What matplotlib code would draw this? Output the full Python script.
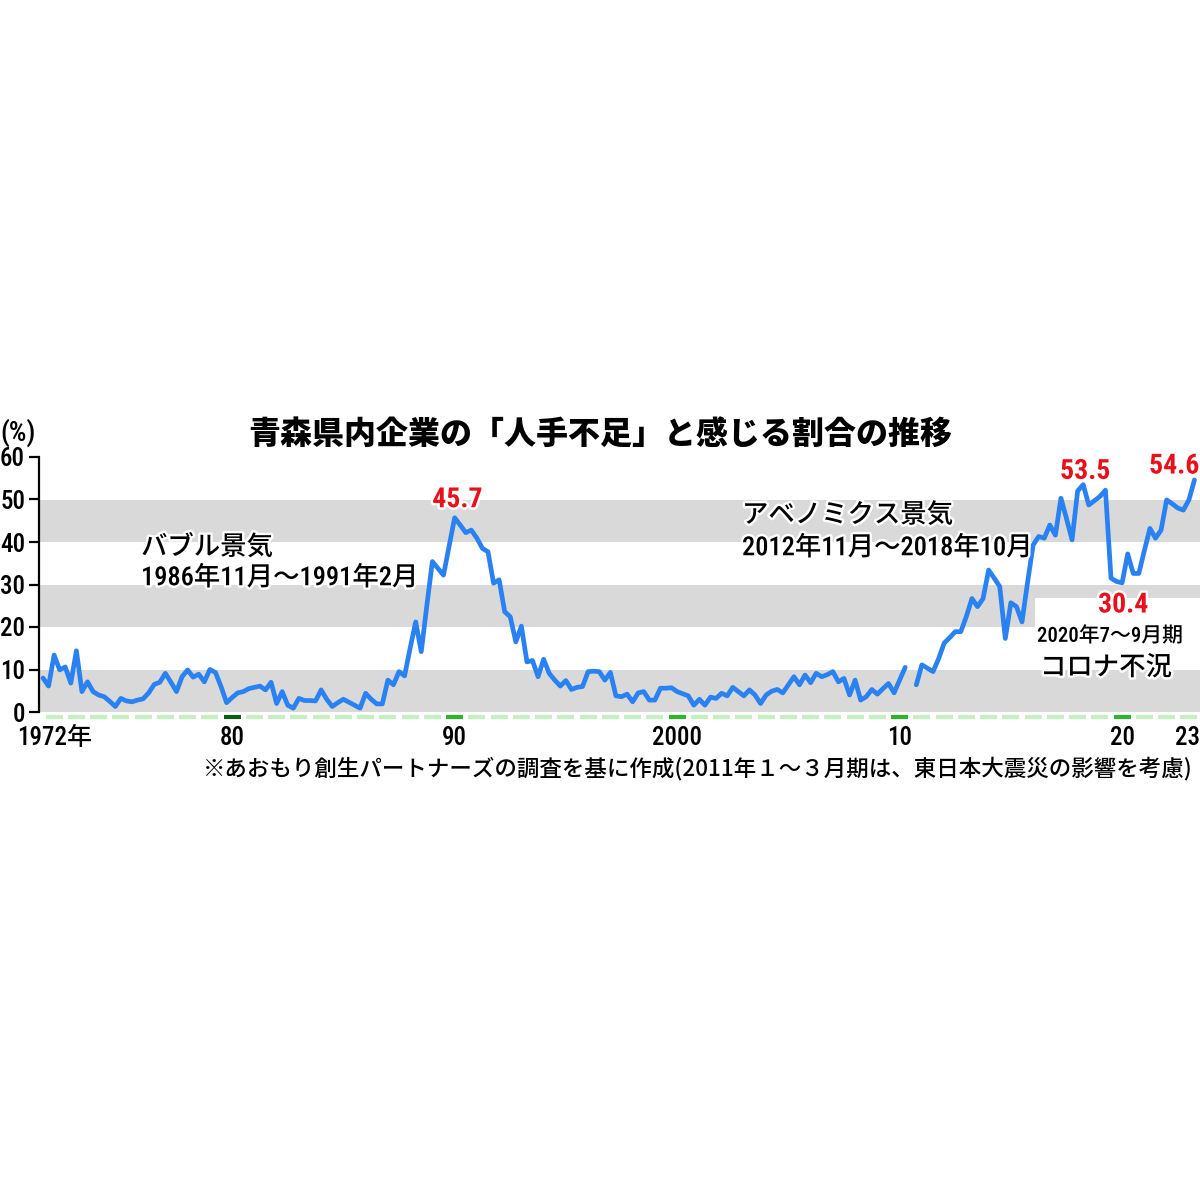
import numpy as np
import matplotlib
matplotlib.use('Agg')
import matplotlib.pyplot as plt
import matplotlib.patheffects as pe
from matplotlib.patches import Rectangle

# quarterly share of firms reporting labour shortage (%), 1972 Q1 .. 2023 Q4
share = [
    8.0, 6.1, 13.4, 9.9,     # 1972
    10.6, 6.8, 14.4, 4.8,    # 1973
    7.1, 4.8, 4.0, 3.6,      # 1974
    2.5, 1.3, 3.2, 2.6,      # 1975
    2.4, 2.8, 3.1, 4.5,      # 1976
    6.5, 7.0, 9.1, 7.0,      # 1977
    4.8, 8.3, 9.9, 8.2,      # 1978
    8.9, 7.1, 10.0, 9.3,     # 1979
    6.0, 2.2, 3.4, 4.5,      # 1980
    4.8, 5.5, 5.8, 6.1,      # 1981
    5.2, 7.0, 2.0, 4.8,      # 1982
    1.6, 0.9, 3.2, 2.7,      # 1983
    2.7, 2.6, 5.2, 3.0,      # 1984
    1.3, 2.2, 3.0, 2.3,      # 1985
    1.6, 0.9, 4.4, 3.0,      # 1986
    1.9, 1.9, 7.5, 6.4,      # 1987
    9.5, 8.5, 15.0, 21.2,    # 1988
    14.2, 25.0, 35.4, 33.8,  # 1989
    32.2, 39.0, 45.7, 44.0,  # 1990
    42.2, 42.8, 40.9, 38.5,  # 1991
    37.7, 30.3, 31.1, 23.6,  # 1992
    22.4, 16.5, 20.2, 11.8,  # 1993
    12.1, 8.3, 12.4, 9.1,    # 1994
    7.5, 6.1, 7.4, 5.3,      # 1995
    5.8, 6.0, 9.5, 9.6,      # 1996
    9.5, 7.5, 9.3, 3.8,      # 1997
    3.6, 4.2, 2.4, 4.5,      # 1998
    4.8, 2.8, 2.8, 5.6,      # 1999
    5.6, 5.7, 4.8, 4.3,      # 2000
    3.8, 1.6, 3.0, 1.6,      # 2001
    3.5, 3.2, 4.4, 3.8,      # 2002
    5.8, 4.8, 3.8, 5.2,      # 2003
    4.0, 2.0, 4.0, 4.9,      # 2004
    5.3, 4.5, 6.4, 8.3,      # 2005
    6.4, 8.7, 6.9, 9.1,      # 2006
    8.3, 8.8, 9.5, 7.1,      # 2007
    7.9, 4.0, 7.5, 2.8,      # 2008
    3.6, 5.3, 4.2, 5.5,      # 2009
    6.7, 4.5, 7.5, 10.5,     # 2010
    np.nan, 6.4, 11.1, 10.3, # 2011 (Q1 left out: earthquake)
    9.5, 12.5, 16.2, 17.5,   # 2012
    18.9, 18.9, 22.5, 26.7,  # 2013
    24.8, 26.7, 33.4, 31.5,  # 2014
    29.5, 17.3, 25.7, 24.8,  # 2015
    21.2, 30.5, 39.3, 41.3,  # 2016
    40.9, 44.0, 41.6, 50.3,  # 2017
    45.5, 40.5, 52.0, 53.5,  # 2018
    48.7, 49.7, 50.7, 52.2,  # 2019
    31.5, 30.7, 30.4, 37.2,  # 2020
    32.6, 32.6, 38.0, 43.2,  # 2021
    40.9, 42.8, 49.9, 49.0,  # 2022
    48.0, 47.5, 49.9, 54.6,  # 2023
]
first_year = 1972
last_year = 2023

tick_years = [1972, 1980, 1990, 2000, 2010, 2020, 2023]
tick_labels = ['1972年', '80', '90', '2000', '10', '20', '23']
decade_years = [1990, 2000, 2010, 2020]

# (year, quarter) of the labelled values and label offsets (points)
marked = [(1990, 3), (2018, 4), (2020, 3), (2023, 4)]
marked_offsets = [(2, 13), (1.5, 9.5), (0.7, -16), (-14.5, 10)]

title = '青森県内企業の「人手不足」と感じる割合の推移'
note = '※あおもり創生パートナーズの調査を基に作成(2011年１～３月期は、東日本大震災の影響を考慮)'

NUM = 'Roboto Condensed'
JP = 'Noto Sans CJK JP'
plt.rcParams['font.family'] = [NUM, JP, 'DejaVu Sans']
plt.rcParams['font.weight'] = 500

BLUE = '#2a82f2'
RED = '#e8101a'
halo = [pe.withStroke(linewidth=3.5, foreground='white')]


def px(x, y):
    return x / 1200, 1 - y / 1200


fig = plt.figure(figsize=(12, 12), dpi=100)
ax = fig.add_axes([39 / 1200, 1 - 712 / 1200, (1200 - 39) / 1200, 255 / 1200])

x = first_year + np.arange(len(share)) / 4
y = np.array(share)

ax.set_xlim(first_year + (39 - 43) / 22.25, last_year + 1)
ax.set_ylim(0, 60)

for lo in (0, 20, 40):
    ax.axhspan(lo, lo + 10, color='#d9d9d9', lw=0, zorder=0)

# white box behind the corona note
ax.add_patch(Rectangle((2016.6, 20), last_year + 1 - 2016.6, 6.8, facecolor='white',
                       edgecolor='none', zorder=1))

ax.plot(x, y, color=BLUE, lw=3.4, solid_joinstyle='round', solid_capstyle='round', zorder=3)

for s in ('top', 'right', 'bottom'):
    ax.spines[s].set_visible(False)
ax.spines['left'].set_linewidth(1.6)
ax.set_yticks(range(0, 61, 10))
ax.tick_params(axis='y', length=7, width=1.6, pad=3, labelsize=18)
ax.set_xticks([])

# one dash per year along the bottom
for yr in range(first_year, last_year + 1):
    if yr == 1980:
        c = '#0d5c14'
    elif yr in decade_years:
        c = '#2db52d'
    else:
        c = '#c5f0c0'
    ax.plot([yr + 0.12, yr + 0.88], [-1.25, -1.25], color=c, lw=3,
            solid_capstyle='butt', clip_on=False)

for yr, lab in zip(tick_years, tick_labels):
    if yr == last_year:
        ax.text(last_year + 1, -6.1, lab, ha='right', va='center', fontsize=18, clip_on=False)
    else:
        ax.text(yr + 0.5, -6.1, lab, ha='center', va='center', fontsize=18, clip_on=False)

for (yr, q), (dx, dy) in zip(marked, marked_offsets):
    i = (yr - first_year) * 4 + q - 1
    ax.annotate(f'{y[i]:.1f}', xy=(x[i], y[i]), xytext=(dx, dy), textcoords='offset points',
                ha='center', va='center', color=RED, fontsize=20, fontweight='bold',
                path_effects=halo, annotation_clip=False, zorder=5)

fig.text(*px(600, 434), title, ha='center', va='center', fontsize=23,
         fontweight=900, family=[JP])
fig.text(*px(0, 433), '(%)', ha='left', va='center', fontsize=20)

fig.text(*px(141, 547), 'バブル景気', ha='left', va='center', fontsize=19, path_effects=halo)
fig.text(*px(141, 578), '1986年11月～1991年2月', ha='left', va='center', fontsize=19, path_effects=halo)
fig.text(*px(742, 515), 'アベノミクス景気', ha='left', va='center', fontsize=19, path_effects=halo)
fig.text(*px(742, 548), '2012年11月～2018年10月', ha='left', va='center', fontsize=19, path_effects=halo)
fig.text(*px(1037, 636), '2020年7～9月期', ha='left', va='center', fontsize=15, path_effects=halo)
fig.text(*px(1040, 668), 'コロナ不況', ha='left', va='center', fontsize=19, path_effects=halo)

fig.text(*px(203, 768), note, ha='left', va='center', fontsize=16.2, family=[JP, 'DejaVu Sans'])

fig.savefig('out.png', dpi=100, facecolor='white')
